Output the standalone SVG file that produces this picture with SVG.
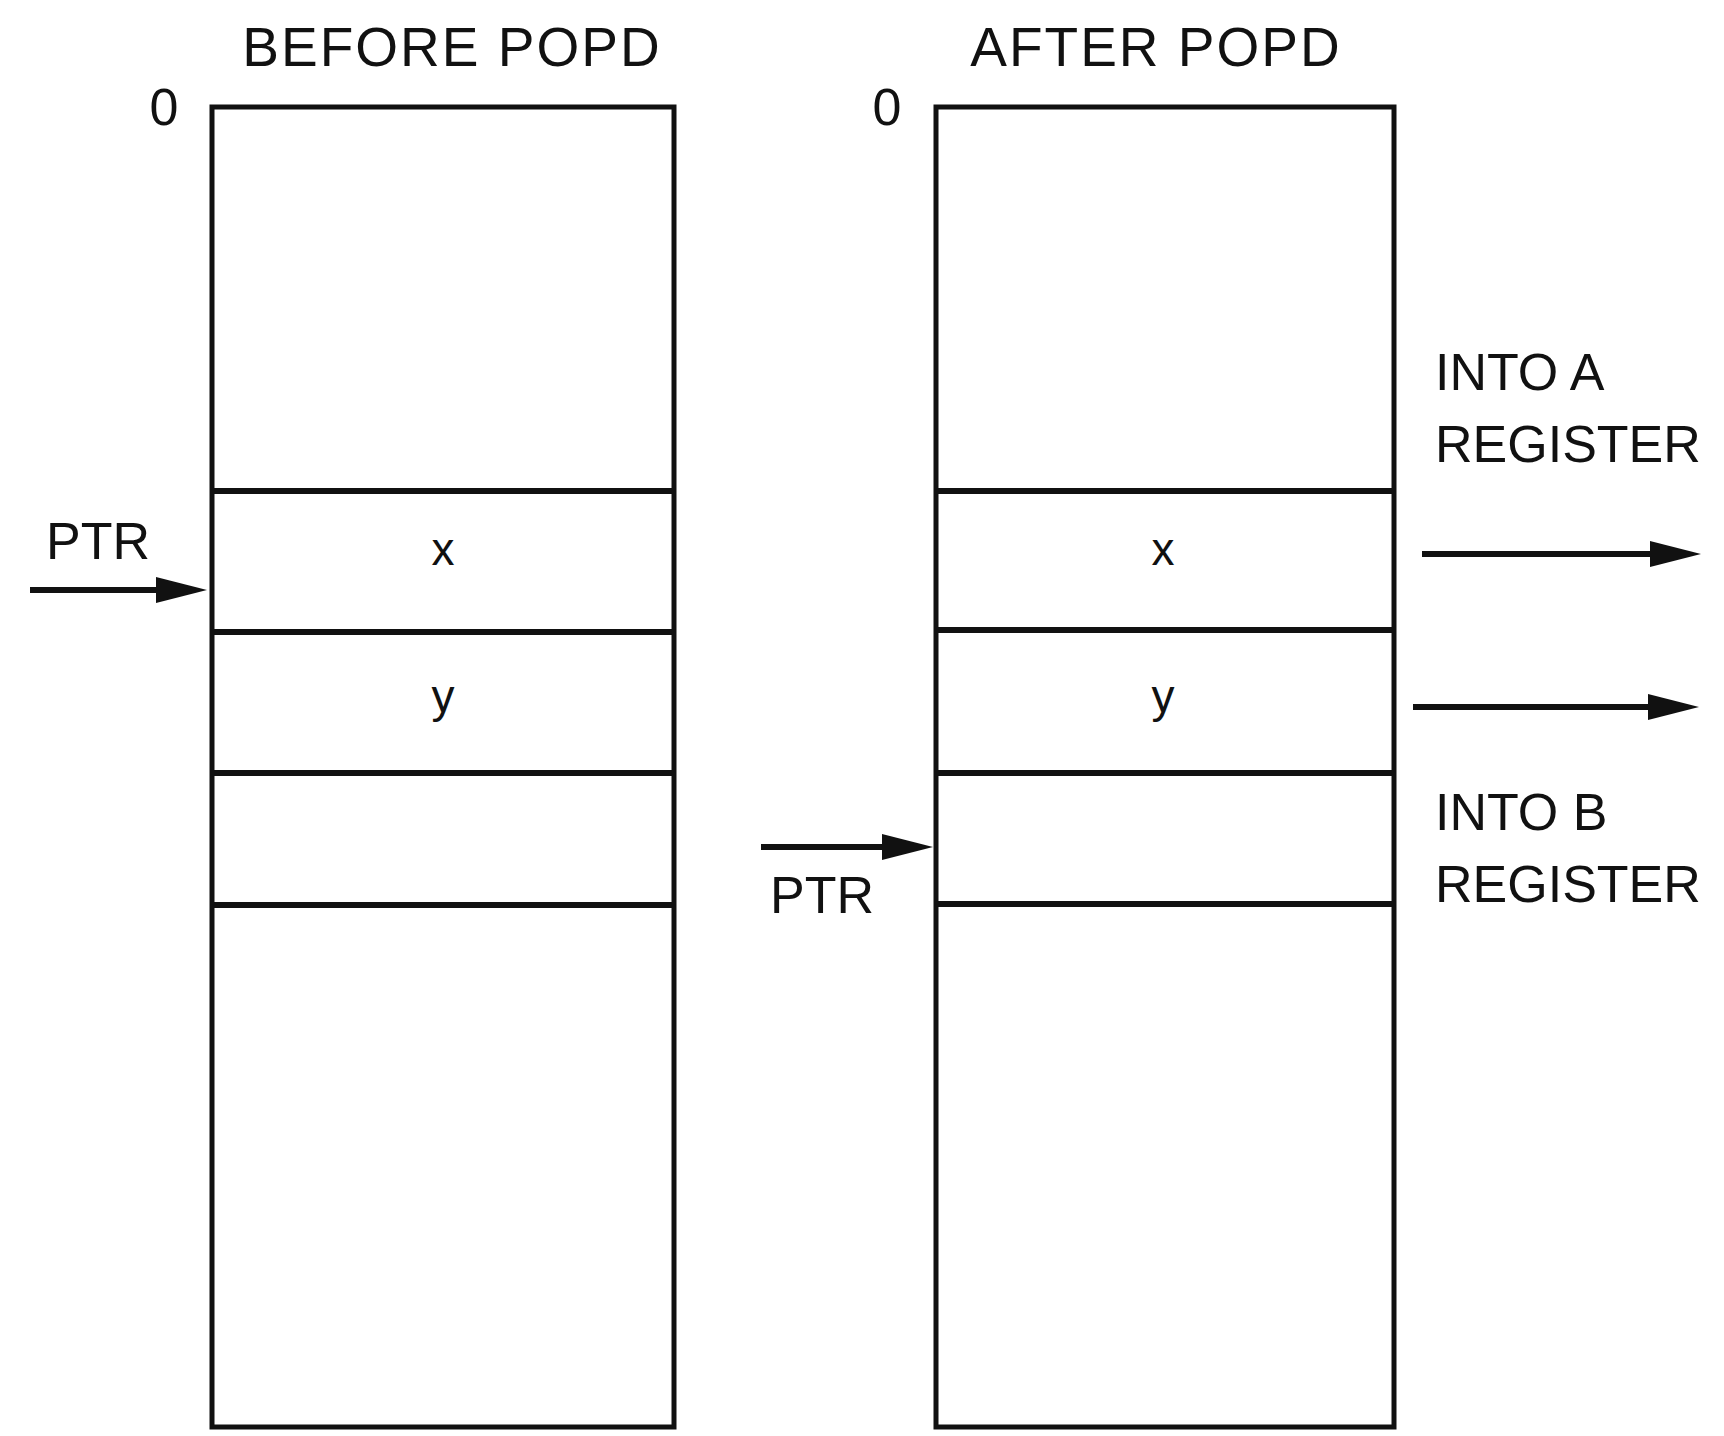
<svg xmlns="http://www.w3.org/2000/svg" width="1724" height="1436" viewBox="0 0 1724 1436">
<style>
text{font-family:"Liberation Sans",Arial,sans-serif;fill:#111;}
.title{font-size:55px;text-anchor:middle;letter-spacing:2px;}
.lab{font-size:52px;}
.cell{font-size:46px;text-anchor:middle;}
.box{fill:#fff;stroke:#111;stroke-width:5;}
.div{stroke:#111;stroke-width:6;}
.shaft{stroke:#111;stroke-width:6;fill:none;}
.head{fill:#111;}
</style>
<rect width="1724" height="1436" fill="#fff"/>
<g id="before">
<text class="title" x="452" y="66">BEFORE POPD</text>
<text class="lab" x="164" y="125" text-anchor="middle">0</text>
<rect class="box" x="212" y="107" width="462" height="1320"/>
<line class="div" x1="212" y1="491" x2="674" y2="491"/>
<line class="div" x1="212" y1="632" x2="674" y2="632"/>
<line class="div" x1="212" y1="773" x2="674" y2="773"/>
<line class="div" x1="212" y1="905" x2="674" y2="905"/>
<text class="cell" x="443" y="565">x</text>
<text class="cell" x="443" y="712">y</text>
<text class="lab" x="46" y="559">PTR</text>
</g>
<g id="after">
<text class="title" x="1156" y="66">AFTER POPD</text>
<text class="lab" x="887" y="125" text-anchor="middle">0</text>
<rect class="box" x="936" y="107" width="458" height="1320"/>
<line class="div" x1="936" y1="491" x2="1394" y2="491"/>
<line class="div" x1="936" y1="630" x2="1394" y2="630"/>
<line class="div" x1="936" y1="773" x2="1394" y2="773"/>
<line class="div" x1="936" y1="904" x2="1394" y2="904"/>
<text class="cell" x="1163" y="565">x</text>
<text class="cell" x="1163" y="712">y</text>
<text class="lab" x="770" y="913">PTR</text>
<text class="lab" x="1435" y="390">INTO A</text>
<text class="lab" x="1435" y="462">REGISTER</text>
<text class="lab" x="1435" y="830">INTO B</text>
<text class="lab" x="1435" y="902">REGISTER</text>
</g>
<g id="connectors">
<line class="shaft" x1="30" y1="590" x2="160" y2="590"/>
<polygon class="head" points="156,577 207,590 156,603"/>
<line class="shaft" x1="761" y1="847" x2="886" y2="847"/>
<polygon class="head" points="882,834 933,847 882,860"/>
<line class="shaft" x1="1422" y1="554" x2="1654" y2="554"/>
<polygon class="head" points="1650,541 1701,554 1650,567"/>
<line class="shaft" x1="1413" y1="707" x2="1652" y2="707"/>
<polygon class="head" points="1648,694 1699,707 1648,720"/>
</g>
</svg>
